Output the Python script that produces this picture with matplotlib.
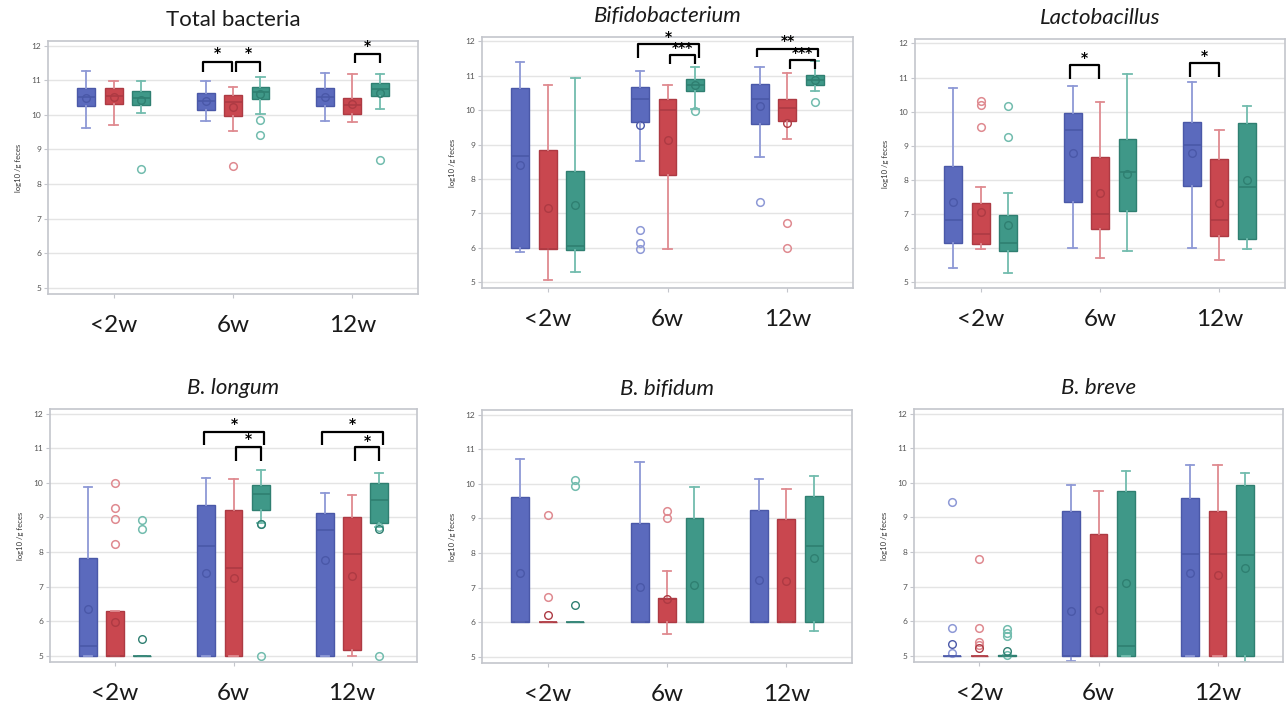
import matplotlib
matplotlib.use("Agg")
import matplotlib.pyplot as plt

plt.rcParams['font.family'] = ['Lato', 'DejaVu Sans']

# ---------------- data ----------------
TIMES = ["<2w", "6w", "12w"]
GROUPS = ["Group 1", "Group 2", "Group 3"]   # blue, red, teal

# rows: group (blue, red, teal); columns: time point (<2w, 6w, 12w)
# --- Total bacteria ---
tot_lo   = [[9.63, 9.83, 9.83], [9.70, 9.52, 9.79], [10.04, 10.01, 10.17]]
tot_q1   = [[10.25, 10.15, 10.25], [10.31, 9.96, 10.02], [10.29, 10.46, 10.54]]
tot_med  = [[10.50, 10.41, 10.52], [10.54, 10.38, 10.27], [10.48, 10.65, 10.74]]
tot_q3   = [[10.76, 10.63, 10.76], [10.76, 10.56, 10.48], [10.70, 10.79, 10.93]]
tot_hi   = [[11.27, 10.99, 11.22], [10.99, 10.81, 11.18], [10.98, 11.10, 11.17]]
tot_mean = [[10.48, 10.40, 10.52], [10.52, 10.22, 10.31], [10.43, 10.60, 10.62]]
tot_out  = [(2, 0, 8.43), (1, 1, 8.53), (2, 1, 9.85), (2, 1, 9.43), (2, 2, 8.70)]

# --- Bifidobacterium ---
bif_lo   = [[5.89, 8.51, 8.65], [5.05, 5.97, 9.17], [5.29, 10.04, 10.57]]
bif_q1   = [[5.99, 9.66, 9.60], [5.97, 8.12, 9.70], [5.94, 10.56, 10.73]]
bif_med  = [[8.68, 10.33, 10.33], [5.97, 10.02, 10.06], [6.06, 10.72, 10.87]]
bif_q3   = [[10.65, 10.69, 10.75], [8.85, 10.34, 10.34], [8.22, 10.90, 11.03]]
bif_hi   = [[11.40, 11.13, 11.27], [10.74, 10.74, 11.09], [10.94, 11.25, 11.43]]
bif_mean = [[8.40, 9.58, 10.13], [7.15, 9.12, 9.62], [7.23, 10.72, 10.87]]
bif_out  = [(0, 1, 6.53), (0, 1, 6.14), (0, 1, 5.97), (2, 1, 9.97),
            (0, 2, 7.32), (1, 2, 6.72), (1, 2, 5.98), (2, 2, 10.23)]

# --- Lactobacillus ---
lac_lo   = [[5.43, 5.99, 5.99], [5.97, 5.71, 5.65], [5.28, 5.91, 5.97]]
lac_q1   = [[6.16, 7.34, 7.83], [6.13, 6.57, 6.35], [5.91, 7.10, 6.26]]
lac_med  = [[6.81, 9.46, 9.01], [6.40, 7.00, 6.83], [6.16, 8.22, 7.80]]
lac_q3   = [[8.41, 9.96, 9.70], [7.32, 8.68, 8.62], [6.98, 9.21, 9.67]]
lac_hi   = [[10.69, 10.74, 10.87], [7.78, 10.28, 9.46], [7.62, 11.10, 10.16]]
lac_mean = [[7.34, 8.80, 8.80], [7.05, 7.62, 7.32], [6.68, 8.17, 8.00]]
lac_out  = [(1, 0, 10.30), (1, 0, 10.19), (1, 0, 9.56), (2, 0, 10.18), (2, 0, 9.26)]

# --- B. longum ---
lon_lo   = [[5.00, 5.00, 5.00], [5.00, 5.00, 5.00], [5.00, 8.85, 8.73]]
lon_q1   = [[5.00, 5.00, 5.00], [5.00, 5.00, 5.19], [5.00, 9.22, 8.83]]
lon_med  = [[5.29, 8.17, 8.65], [5.00, 7.54, 7.96], [5.00, 9.68, 9.49]]
lon_q3   = [[7.84, 9.36, 9.14], [6.31, 9.22, 9.00], [5.00, 9.93, 9.99]]
lon_hi   = [[9.87, 10.14, 9.70], [6.31, 10.12, 9.65], [5.00, 10.38, 10.28]]
lon_mean = [[6.37, 7.39, 7.76], [5.99, 7.26, 7.30], [5.48, 8.81, 8.68]]
lon_out  = [(1, 0, 9.99), (1, 0, 9.28), (1, 0, 8.97), (1, 0, 8.23),
            (2, 0, 8.93), (2, 0, 8.67), (2, 1, 8.81), (2, 1, 5.00),
            (2, 2, 8.72), (2, 2, 5.00)]

# --- B. bifidum ---
bfd_lo   = [[6.00, 6.00, 6.00], [6.00, 5.68, 6.00], [6.00, 6.00, 5.76]]
bfd_q1   = [[6.00, 6.00, 6.00], [6.00, 6.00, 6.00], [6.00, 6.00, 6.00]]
bfd_med  = [[6.00, 6.00, 6.00], [6.00, 6.68, 6.00], [6.00, 6.00, 8.22]]
bfd_q3   = [[9.61, 8.87, 9.24], [6.00, 6.70, 8.98], [6.00, 9.00, 9.66]]
bfd_hi   = [[10.73, 10.64, 10.13], [6.00, 7.48, 9.86], [6.00, 9.92, 10.22]]
bfd_mean = [[7.42, 7.01, 7.23], [6.22, 6.68, 7.21], [6.51, 7.09, 7.87]]
bfd_out  = [(1, 0, 9.10), (1, 0, 6.74), (2, 0, 10.11), (2, 0, 9.94),
            (1, 1, 9.22), (1, 1, 9.02)]

# --- B. breve ---
brv_lo   = [[5.00, 4.85, 5.00], [5.00, 5.00, 5.00], [5.00, 5.00, 4.82]]
brv_q1   = [[5.00, 5.00, 5.00], [5.00, 5.00, 5.00], [5.00, 5.00, 5.00]]
brv_med  = [[5.00, 5.00, 7.94], [5.00, 5.00, 7.94], [5.00, 5.29, 7.91]]
brv_q3   = [[5.00, 9.19, 9.56], [5.00, 8.51, 9.19], [5.04, 9.75, 9.94]]
brv_hi   = [[5.00, 9.94, 10.50], [5.00, 9.77, 10.50], [5.04, 10.33, 10.28]]
brv_mean = [[5.34, 6.31, 7.40], [5.24, 6.33, 7.33], [5.14, 7.10, 7.54]]
brv_out  = [(0, 0, 9.46), (0, 0, 5.82), (0, 0, 5.10),
            (1, 0, 7.79), (1, 0, 5.82), (1, 0, 5.40), (1, 0, 5.31),
            (2, 0, 5.77), (2, 0, 5.68), (2, 0, 5.58), (2, 0, 5.04)]

# significance brackets: (time, group a, group b, bar y, leg-bottom y, label, label y)
tot_sig = [(1, 0, 1, 11.52, 11.23, "*", 11.78), (1, 1, 2, 11.52, 11.23, "*", 11.78),
           (2, 1, 2, 11.76, 11.49, "*", 12.00)]
bif_sig = [(1, 0, 2, 11.93, 11.52, "*", 12.13), (1, 1, 2, 11.61, 11.35, "***", 11.80),
           (2, 0, 2, 11.79, 11.54, "**", 12.00), (2, 1, 2, 11.47, 11.20, "***", 11.66)]
lac_sig = [(1, 0, 1, 11.37, 10.95, "*", 11.58), (2, 0, 1, 11.44, 11.03, "*", 11.64)]
lon_sig = [(1, 0, 2, 11.48, 11.08, "*", 11.71), (1, 1, 2, 11.03, 10.64, "*", 11.27),
           (2, 0, 2, 11.48, 11.08, "*", 11.71), (2, 1, 2, 11.03, 10.64, "*", 11.22)]

PANELS = [
    ("Total bacteria", False, tot_lo, tot_q1, tot_med, tot_q3, tot_hi, tot_mean, tot_out, tot_sig),
    ("Bifidobacterium", True, bif_lo, bif_q1, bif_med, bif_q3, bif_hi, bif_mean, bif_out, bif_sig),
    ("Lactobacillus", True, lac_lo, lac_q1, lac_med, lac_q3, lac_hi, lac_mean, lac_out, lac_sig),
    ("B. longum", True, lon_lo, lon_q1, lon_med, lon_q3, lon_hi, lon_mean, lon_out, lon_sig),
    ("B. bifidum", True, bfd_lo, bfd_q1, bfd_med, bfd_q3, bfd_hi, bfd_mean, bfd_out, []),
    ("B. breve", True, brv_lo, brv_q1, brv_med, brv_q3, brv_hi, brv_mean, brv_out, []),
]

# ---------------- style ----------------
FILL  = ["#5b6abd", "#c9474f", "#3f9888"]
EDGE  = ["#4a58a8", "#ad3a43", "#2f7f71"]
LIGHT = ["#8e99d6", "#df8a90", "#72bcae"]
OFFS  = [-0.23, 0.0, 0.23]
W, H = 1286, 703
RECTS = [
    (48, 41, 418, 294), (482, 37, 853, 288), (915, 39, 1285, 288),
    (50, 409, 417, 662), (482, 410, 852, 663), (914, 409, 1283, 662),
]


def leg_x(ti, ga, gb):
    """bracket leg positions, nudged so neighbouring brackets do not touch"""
    xa = ti + OFFS[ga] + (0.025 if ga == 1 else -0.02)
    if gb == 1:
        xb = ti + OFFS[gb] - 0.005
    elif ga == 0:
        xb = ti + OFFS[gb] + 0.03
    else:
        xb = ti + OFFS[gb] + 0.0
    return xa, xb


fig = plt.figure(figsize=(W / 100, H / 100), dpi=100)

for (title, ital, lo, q1, med, q3, hi, mean, outs, sigs), (l, t, r, b) in zip(PANELS, RECTS):
    ax = fig.add_axes([l / W, 1 - b / H, (r - l) / W, (b - t) / H])
    ax.set_xlim(-0.55, 2.55)
    ax.set_ylim(4.83, 12.13)
    ax.set_yticks(range(5, 13))
    ax.grid(axis='y', color='#e4e4e4', lw=1.0)
    ax.set_axisbelow(True)
    for s in ax.spines.values():
        s.set_color('#c4c6cc')
        s.set_linewidth(1.2)
    for g in range(3):
        stats = []
        for ti in range(3):
            fl = [v for (gg, tt, v) in outs if gg == g and tt == ti]
            stats.append(dict(whislo=lo[g][ti], q1=q1[g][ti], med=med[g][ti],
                              q3=q3[g][ti], whishi=hi[g][ti], mean=mean[g][ti],
                              fliers=fl))
        ax.bxp(stats, positions=[ti + OFFS[g] for ti in range(3)], widths=0.15,
               capwidths=0.07, patch_artist=True, showmeans=True, manage_ticks=False,
               boxprops=dict(facecolor=FILL[g], edgecolor=EDGE[g], lw=1.0),
               medianprops=dict(color=EDGE[g], lw=1.2),
               whiskerprops=dict(color=LIGHT[g], lw=1.3),
               capprops=dict(color=LIGHT[g], lw=1.3),
               meanprops=dict(marker='o', markerfacecolor='none',
                              markeredgecolor=EDGE[g], markersize=5.5, mew=1.0),
               flierprops=dict(marker='o', markerfacecolor='none',
                               markeredgecolor=LIGHT[g], markersize=5.5, mew=1.1))
    for (ti, ga, gb, ybar, yleg, lab, ylab) in sigs:
        xa, xb = leg_x(ti, ga, gb)
        ax.plot([xa, xa, xb, xb], [yleg, ybar, ybar, yleg], color='black', lw=1.6,
                clip_on=False, solid_capstyle='butt')
        ax.text((xa + xb) / 2, ylab, lab, ha='center', va='center', fontsize=10,
                fontweight='bold', color='black', clip_on=False,
                family=['DejaVu Sans'])
    ax.set_xticks(range(3))
    ax.set_xticklabels(TIMES, fontsize=17.5, color='#1a1a1a')
    ax.tick_params(axis='x', length=3, color='#c4c6cc', pad=12)
    ax.tick_params(axis='y', length=3, color='#c4c6cc', labelsize=6, labelcolor='#555555', pad=2)
    ax.set_ylabel("log10 /g feces", fontsize=5.5, color='#333333', labelpad=7)
    ax.set_title(title, fontsize=16, style='italic' if ital else 'normal',
                 color='#1a1a1a', pad=11)

fig.savefig("out.png", dpi=100)
